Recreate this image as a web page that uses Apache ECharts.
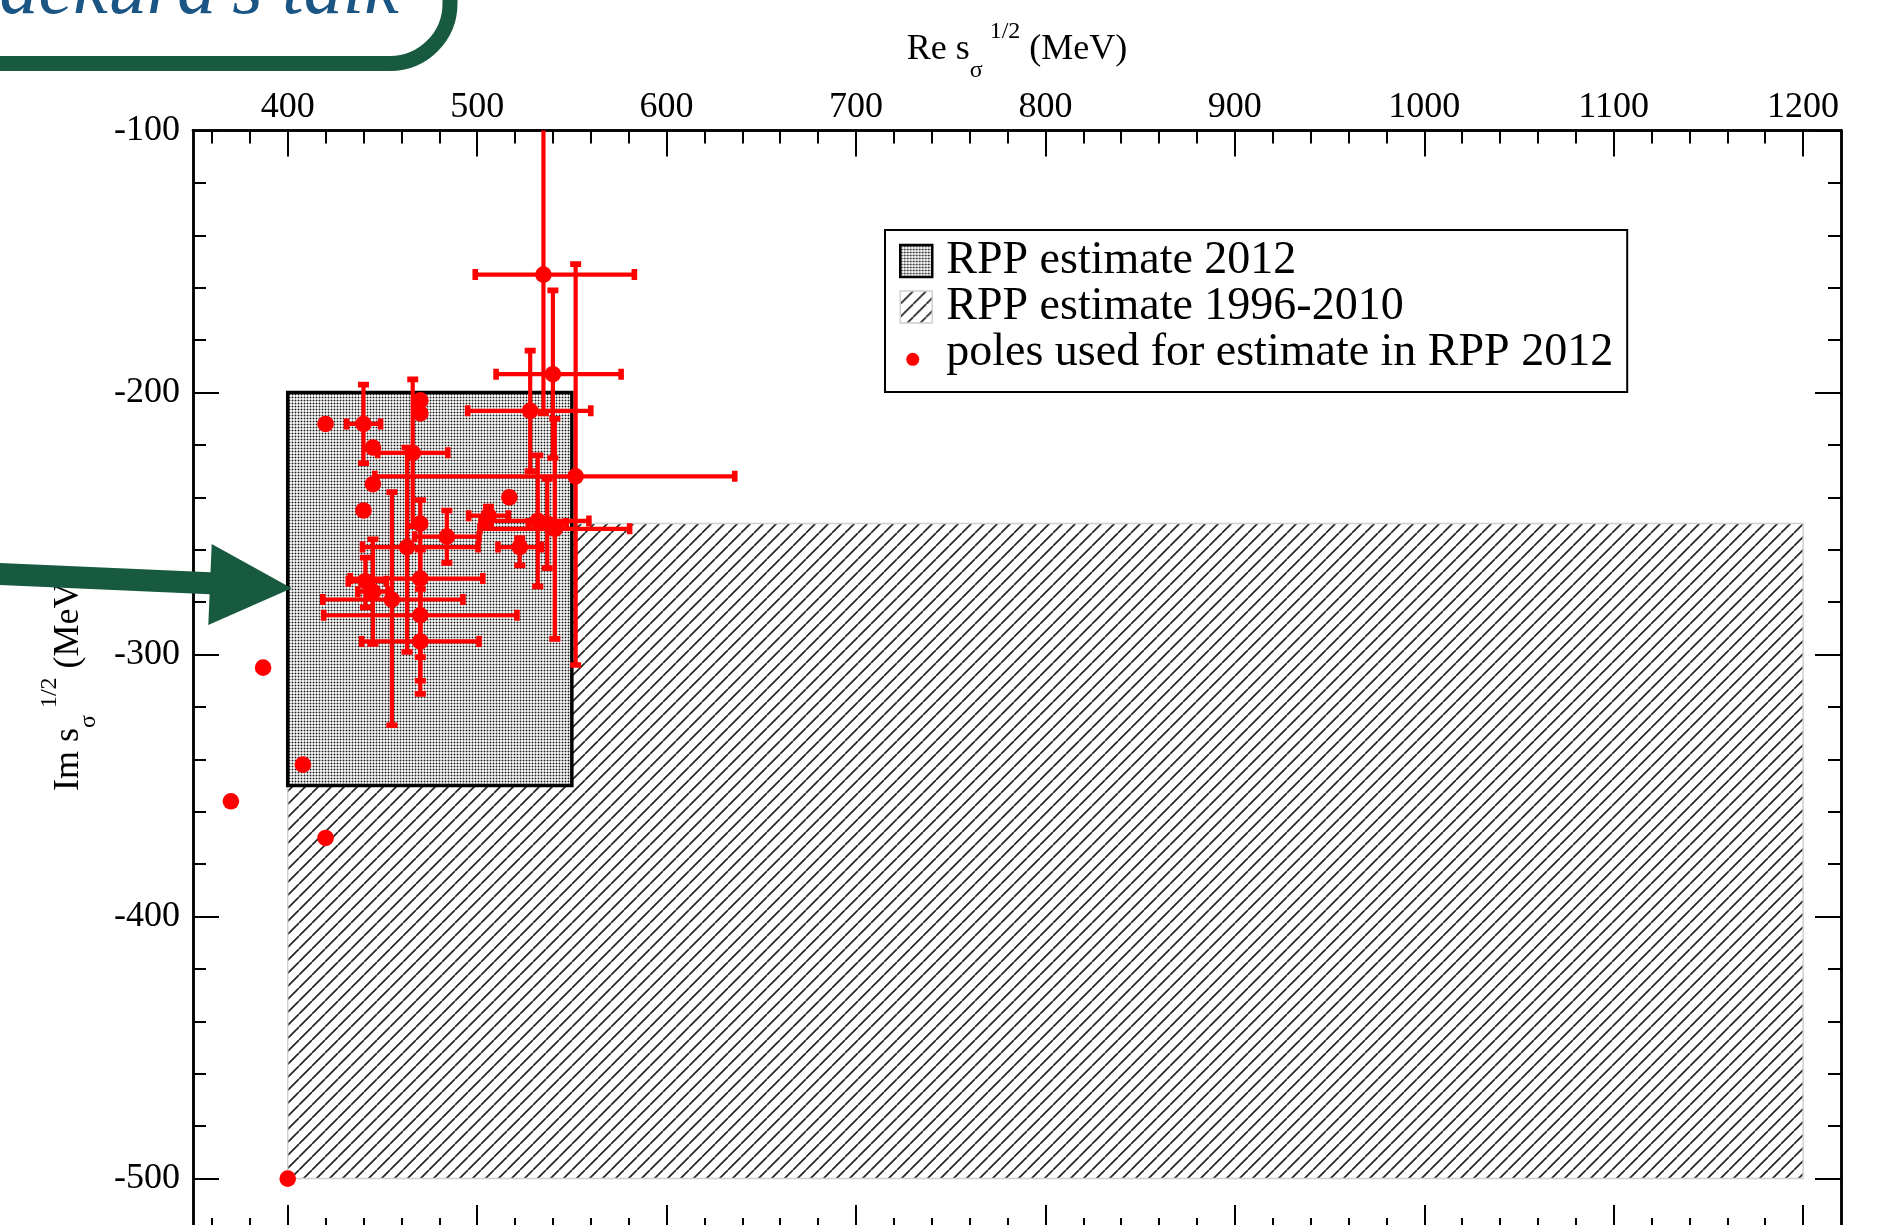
<!DOCTYPE html>
<html>
<head>
<meta charset="utf-8">
<script src="https://cdn.jsdelivr.net/npm/echarts@6/dist/echarts.min.js"></script>
<style>
  html, body { margin: 0; padding: 0; background: #fff; overflow: hidden; }
  #chart { width: 1885px; height: 1225px; }
</style>
</head>
<body>
<div id="chart"></div>
<script>
// Sigma pole positions sqrt(s) = Re + i Im (MeV) with asymmetric uncertainties.
const poleRe     = [420, 440, 470, 470, 466, 445, 445, 440, 517, 470, 506, 484, 522.5, 528, 535, 540, 552, 532, 541, 537, 463, 455, 470, 470, 470, 441, 445, 387, 408, 370, 420, 400];
const poleIm     = [-212, -212, -203, -208, -223, -221, -235, -245, -240, -250, -247, -255, -259, -207, -155, -193, -232, -249, -252, -250, -259, -279, -271, -285, -295, -272, -276, -305, -342, -356, -370, -500];
const reErrMinus = [0, 9, 0, 0, 18.5, 0, 0, 0, 0, 0, 10.5, 17, 11.5, 33, 36, 30, 106, 30, 39.5, 10, 23.5, 36.5, 37, 51, 31, 9, 8, 0, 0, 0, 0, 0];
const reErrPlus  = [0, 9, 0, 0, 18.5, 0, 0, 0, 0, 0, 10.5, 17, 11.5, 32, 48, 36, 84, 27, 39.5, 10, 37.5, 37.5, 33, 51, 31, 11, 8, 0, 0, 0, 0, 0];
const imErrMinus = [0, 15, 0, 0, 28, 0, 0, 0, 0, 0, 3.5, 10, 7, 23, 53, 32, 72, 25, 42, 17, 40, 48, 30, 25, 20, 10, 20, 0, 0, 0, 0, 0];
const imErrPlus  = [0, 15, 0, 0, 28, 0, 0, 0, 0, 0, 3.5, 10, 3.5, 23, 60, 32, 81, 25, 42, 17, 38, 41, 30, 25, 20, 9, 20, 0, 0, 0, 0, 0];

// RPP ranges: [Re from, Re to, Im from, Im to]
const rpp2012 = [400, 550, -200, -350];
const rpp1996 = [400, 1200, -250, -500];

// Axis ranges and ticks
const reRange = [350, 1220];
const imRange = [-520, -100];
const reMajorTicks = [400, 500, 600, 700, 800, 900, 1000, 1100, 1200];
const reMinorTicks = [360, 380, 420, 440, 460, 480, 520, 540, 560, 580, 620, 640, 660, 680,
  720, 740, 760, 780, 820, 840, 860, 880, 920, 940, 960, 980, 1020, 1040, 1060, 1080,
  1120, 1140, 1160, 1180];
const imMajorTicks = [-100, -200, -300, -400, -500];
const imMinorTicks = [-120, -140, -160, -180, -220, -240, -260, -280, -320, -340, -360, -380,
  -420, -440, -460, -480];

const seriesNames = ['RPP estimate 2012', 'RPP estimate 1996-2010', 'poles used for estimate in RPP 2012'];

const serif = 'Liberation Serif';
const red = '#ff0000';
const green = '#175a40';

// Fill textures
function dotTexture() {
  const c = document.createElement('canvas');
  c.width = 3; c.height = 3;
  const g = c.getContext('2d');
  g.fillStyle = '#efefef'; g.fillRect(0, 0, 3, 3);
  g.fillStyle = '#a8a8a8'; g.fillRect(1, 0, 1, 3); g.fillRect(0, 1, 3, 1);
  g.fillStyle = '#1a1a1a'; g.fillRect(1, 1, 1, 1);
  return { image: c, repeat: 'repeat' };
}
function hatchTexture() {
  const s = 13;
  const c = document.createElement('canvas');
  c.width = s; c.height = s;
  const g = c.getContext('2d');
  g.fillStyle = '#fff'; g.fillRect(0, 0, s, s);
  g.strokeStyle = '#262626'; g.lineWidth = 1.7;
  g.beginPath();
  [-s, 0, s].forEach(o => { g.moveTo(o, s); g.lineTo(o + s, 0); });
  g.stroke();
  return { image: c, repeat: 'repeat' };
}
const dots = dotTexture();
const hatch = hatchTexture();

const tickStyle = { color: '#000', width: 2 };
const frameLine = { show: true, onZero: false, lineStyle: { color: '#000', width: 2.5 } };
const labelFont = { fontFamily: serif, fontSize: 36, color: '#000', formatter: v => String(v) };

function titleStyle() {
  return {
    fontFamily: serif, fontSize: 36, color: '#000', lineHeight: 70,
    rich: {
      sub: { fontFamily: serif, fontSize: 24, color: '#000', verticalAlign: 'bottom', padding: [0, 0, 2, 0] },
      sup: { fontFamily: serif, fontSize: 24, color: '#000', verticalAlign: 'top', padding: [5, 0, 0, 7] }
    }
  };
}

function reAxis(position, ticks, len, main) {
  const ax = {
    type: 'value', position, min: reRange[0], max: reRange[1],
    axisLine: frameLine,
    axisTick: { show: true, inside: true, length: len, customValues: ticks, lineStyle: tickStyle },
    axisLabel: main ? Object.assign({ show: true, margin: 5, customValues: reMajorTicks }, labelFont) : { show: false },
    splitLine: { show: false },
    axisPointer: { show: false }
  };
  if (main) {
    ax.name = 'Re s{sub|σ}{sup|1/2} (MeV)';
    ax.nameLocation = 'middle';
    ax.nameGap = 37;
    ax.nameTextStyle = titleStyle();
  }
  return ax;
}

function imAxis(position, ticks, len, main) {
  const ax = {
    type: 'value', position, min: imRange[0], max: imRange[1],
    axisLine: frameLine,
    axisTick: { show: true, inside: true, length: len, customValues: ticks, lineStyle: tickStyle },
    axisLabel: main ? Object.assign({ show: true, margin: 13, customValues: imMajorTicks }, labelFont) : { show: false },
    splitLine: { show: false },
    axisPointer: { show: false }
  };
  if (main) {
    ax.name = 'Im s{sub|σ}{sup|1/2} (MeV)';
    ax.nameLocation = 'middle';
    ax.nameRotate = 90;
    ax.nameGap = 84;
    ax.nameTextStyle = titleStyle();
  }
  return ax;
}

function rangeRenderer(fill, stroke, lineWidth) {
  return function (params, api) {
    const a = api.coord([api.value(0), api.value(2)]);
    const b = api.coord([api.value(1), api.value(3)]);
    return {
      type: 'rect',
      shape: { x: Math.min(a[0], b[0]), y: Math.min(a[1], b[1]), width: Math.abs(b[0] - a[0]), height: Math.abs(b[1] - a[1]) },
      style: { fill, stroke, lineWidth }
    };
  };
}

function renderPole(params, api) {
  const re = api.value(0), im = api.value(1);
  const rm = api.value(2), rp = api.value(3), imM = api.value(4), imP = api.value(5);
  const c = api.coord([re, im]);
  const kids = [];
  const seg = (p, q) => ({ type: 'line', shape: { x1: p[0], y1: p[1], x2: q[0], y2: q[1] }, style: { stroke: red, lineWidth: 4.2 } });
  const vCap = p => ({ type: 'rect', shape: { x: p[0] - 2.8, y: p[1] - 5.5, width: 5.6, height: 11 }, style: { fill: red } });
  const hCap = p => ({ type: 'rect', shape: { x: p[0] - 5.5, y: p[1] - 2.8, width: 11, height: 5.6 }, style: { fill: red } });
  if (rm || rp) {
    const l = api.coord([re - rm, im]), r = api.coord([re + rp, im]);
    kids.push(seg(l, r), vCap(l), vCap(r));
  }
  if (imM || imP) {
    const lo = api.coord([re, im - imM]), hi = api.coord([re, im + imP]);
    kids.push(seg(lo, hi), hCap(lo), hCap(hi));
  }
  kids.push({ type: 'circle', shape: { cx: c[0], cy: c[1], r: 8.3 }, style: { fill: red } });
  return { type: 'group', children: kids };
}

const poleData = poleRe.map((re, i) => [re, poleIm[i], reErrMinus[i], reErrPlus[i], imErrMinus[i], imErrPlus[i]]);

const chart = echarts.init(document.getElementById('chart'), null, { renderer: 'canvas', width: 1885, height: 1225 });

chart.setOption({
  animation: false,
  backgroundColor: '#fff',
  textStyle: { fontFamily: serif },
  grid: { left: 193, top: 130.5, width: 1648, height: 1100.5, outerBoundsMode: 'none', containLabel: false },
  xAxis: [
    reAxis('top', reMajorTicks, 26, true),
    reAxis('bottom', reMajorTicks, 26, false),
    reAxis('top', reMinorTicks, 13, false),
    reAxis('bottom', reMinorTicks, 13, false)
  ],
  yAxis: [
    imAxis('left', imMajorTicks, 26, true),
    imAxis('right', imMajorTicks, 26, false),
    imAxis('left', imMinorTicks, 13, false),
    imAxis('right', imMinorTicks, 13, false)
  ],
  legend: {
    orient: 'vertical', left: 885, top: 230,
    padding: [8, 14, 16, 14], itemGap: 0,
    itemWidth: 32, itemHeight: 32,
    borderColor: '#000', borderWidth: 2, backgroundColor: '#fff',
    selectedMode: false,
    textStyle: { fontFamily: serif, fontSize: 46, color: '#000', lineHeight: 46, padding: [0, 0, 0, 9] },
    data: [
      { name: seriesNames[0], icon: 'rect', itemStyle: { color: dots, borderColor: '#000', borderWidth: 2.5 } },
      { name: seriesNames[1], icon: 'rect', itemStyle: { color: hatch, borderColor: '#d0d0d0', borderWidth: 1.5 } },
      { name: seriesNames[2], icon: 'path://M0,0M32,32M6,22.3a6.5,6.5 0 1 0 13,0a6.5,6.5 0 1 0 -13,0z', itemStyle: { color: red, borderWidth: 0 } }
    ]
  },
  series: [
    {
      name: seriesNames[1], type: 'custom', z: 1, clip: true,
      xAxisIndex: 0, yAxisIndex: 0,
      encode: { x: [0, 1], y: [2, 3] },
      data: [rpp1996],
      renderItem: rangeRenderer(hatch, '#d0d0d0', 1.5)
    },
    {
      name: seriesNames[0], type: 'custom', z: 2, clip: true,
      xAxisIndex: 0, yAxisIndex: 0,
      encode: { x: [0, 1], y: [2, 3] },
      data: [rpp2012],
      renderItem: rangeRenderer(dots, '#000', 3.5)
    },
    {
      name: seriesNames[2], type: 'custom', z: 3, clip: true,
      xAxisIndex: 0, yAxisIndex: 0,
      encode: { x: 0, y: 1 },
      data: poleData,
      renderItem: renderPole
    }
  ],
  graphic: [
    {
      type: 'rect', z: 100,
      shape: { x: -194, y: -200, width: 644, height: 263.5, r: 60 },
      style: { fill: '#fff', stroke: green, lineWidth: 15 }
    },
    {
      type: 'text', z: 101, x: -35, y: 31,
      style: { text: 'Jackura’s talk', font: 'italic 78px "Liberation Serif"', fill: '#1b5584', verticalAlign: 'bottom' }
    },
    {
      type: 'polygon', z: 100,
      shape: { points: [[-10, 562.6], [210.5, 572.2], [211.7, 544], [291.7, 588.3], [208.3, 625], [209.6, 594.2], [-10, 584.5]] },
      style: { fill: green }
    }
  ]
});
</script>
</body>
</html>
